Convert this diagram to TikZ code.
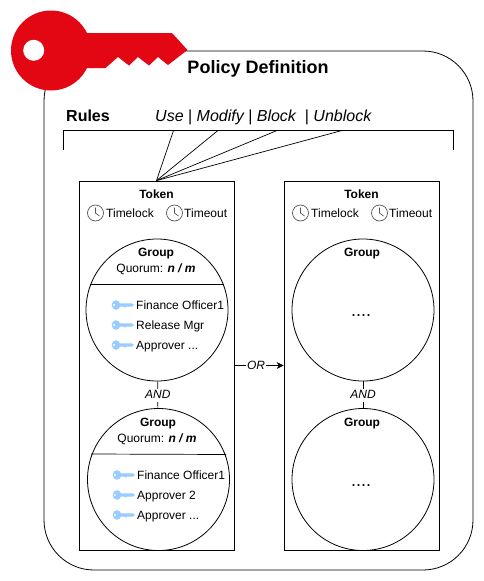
\documentclass[tikz,border=0pt]{standalone}
\usepackage{fontspec}
\setmainfont{Liberation Sans}
\usetikzlibrary{arrows.meta,shapes.geometric}
\definecolor{keyred}{HTML}{E30613}
\definecolor{keyblue}{HTML}{99CCFF}
\definecolor{clockgray}{HTML}{555555}
\tikzset{
  x=1pt,y=-1pt,
  txt/.style={inner sep=0pt,yshift=-1pt,text height=8.6pt,text depth=2.6pt,font=\fontsize{12}{14}\selectfont},
  boldtxt/.style={txt,font=\fontsize{12}{14}\selectfont\bfseries},
  ittxt/.style={txt,fill=white,inner sep=1pt,font=\fontsize{12}{14}\selectfont\itshape},
  titletxt/.style={inner sep=0pt,yshift=-2pt,text height=13pt,text depth=3.8pt,font=\fontsize{18}{20}\selectfont\bfseries},
  bigbold/.style={inner sep=0pt,yshift=-2pt,text height=11.5pt,text depth=3.4pt,font=\fontsize{16}{18}\selectfont\bfseries},
  bigit/.style={inner sep=0pt,yshift=-2pt,text height=11.5pt,text depth=3.4pt,font=\fontsize{16}{18}\selectfont\itshape},
  dotstxt/.style={inner sep=0pt,text height=13pt,text depth=3.8pt,font=\fontsize{18}{20}\selectfont},
  tokenbox/.style={draw=black,line width=0.8pt,rectangle,minimum width=155pt,minimum height=369pt,inner sep=0pt},
  groupcircle/.style={draw=black,line width=0.8pt,circle,minimum size=142pt,inner sep=0pt},
  conn/.style={draw=black,line width=0.7pt},
  smallkey/.pic={
    \fill[keyblue] (-6,0) ellipse (4.3 and 4.8);
    \fill[keyblue] (-4,-1.6) -- (10,-1.6) -- (12,0) -- (10,1.6) -- (4,1.6) -- (3,2.6) -- (1,1.6) -- (-4,1.6) -- cycle;
    \fill[white] (-8,0) circle (1.2);
  },
  clockicon/.pic={
    \draw[clockgray,line width=0.7pt,fill=white] (0,0) circle (8);
    \draw[clockgray,line width=0.7pt] (0,-5.5) -- (0,0) -- (4,3);
  }
}
\begin{document}
\begin{tikzpicture}
\useasboundingbox (0,0) rectangle (484,581);
\fill[white] (0,0) rectangle (484,581);
% outer
\draw[line width=0.8pt,rounded corners=50pt] (44,51) rectangle (473,570);
% key
\fill[keyred] (51,50.5) circle (40);
\fill[keyred] (85,33) -- (172,33) -- (187.5,50) -- (168,65) -- (158,57) -- (149,65.5) -- (138,57) -- (129,65.5) -- (118,57) -- (105.5,68) -- (85,68) -- cycle;
\fill[white] (33.7,50.3) circle (10.5);
% texts
\node[titletxt] (title) at (258,67) {Policy Definition};
\node[bigbold,anchor=west] (rules) at (66,115.5) {Rules};
\node[bigit,anchor=west] (ops) at (155,115.5) {Use {\upshape|} Modify {\upshape|} Block\ \ {\upshape|} Unblock};
% bracket
\draw[line width=0.8pt] (63.5,150) -- (63.5,130.5) -- (453.5,130.5) -- (453.5,150);
% tokens
\node[tokenbox] (t1) at (156.5,365.5) {};
\node[tokenbox] (t2) at (361.5,365.5) {};
% rule lines
\coordinate (r1) at (173.5,130.5);
\coordinate (r2) at (218,130.5);
\coordinate (r3) at (277,130.5);
\coordinate (r4) at (342,130.5);
\foreach \r in {r1,r2,r3,r4} \draw[conn] (\r) -- (t1.north);
% token headers
\node[boldtxt] (t1h) at (156.5,194) {Token};
\node[boldtxt] (t2h) at (361.5,194) {Token};
\pic at (95.5,213) {clockicon};
\pic at (174.5,213) {clockicon};
\pic at (300.5,213) {clockicon};
\pic at (379.5,213) {clockicon};
\node[txt,anchor=west] (a1) at (106,213) {Timelock};
\node[txt,anchor=west] (a2) at (184,213) {Timeout};
\node[txt,anchor=west] (a3) at (311,213) {Timelock};
\node[txt,anchor=west] (a4) at (389,213) {Timeout};
% groups
\node[groupcircle] (g1) at (157,310) {};
\node[groupcircle] (g2) at (158.5,479.5) {};
\node[groupcircle] (g3) at (363,310) {};
\node[groupcircle] (g4) at (363,479.5) {};
% connectors
\draw[conn] (g1) -- (g2) node[midway,ittxt] (and1) {AND};
\draw[conn] (g3) -- (g4) node[midway,ittxt] (and2) {AND};
\draw[conn,-{Stealth[length=7pt,width=7pt]}] (t1.east |- 0,365.5) -- (t2.west |- 0,365.5) node[pos=0.44,ittxt] (orl) {OR};
% group 1
\node[boldtxt] (g1h) at (156,252) {Group};
\node[txt] (g1q) at (156,268) {Quorum: {\bfseries\itshape n / m}};
\draw[conn] (90,284) -- (224,284);
\pic at (122,305) {smallkey};
\pic at (122,325) {smallkey};
\pic at (122,345) {smallkey};
\node[txt,anchor=west] (k1) at (136,305) {Finance Officer1};
\node[txt,anchor=west] (k2) at (136,325) {Release Mgr};
\node[txt,anchor=west] (k3) at (136,345) {Approver ...};
% group 2
\node[boldtxt] (g2h) at (158,422) {Group};
\node[txt] (g2q) at (157,438) {Quorum: {\bfseries\itshape n / m}};
\draw[conn] (91,454) -- (226,454.5);
\pic at (123,475) {smallkey};
\pic at (123,495) {smallkey};
\pic at (123,515) {smallkey};
\node[txt,anchor=west] (k4) at (137,475) {Finance Officer1};
\node[txt,anchor=west] (k5) at (137,495) {Approver 2};
\node[txt,anchor=west] (k6) at (137,515) {Approver ...};
% right groups
\node[boldtxt] (g3h) at (362,252) {Group};
\node[boldtxt] (g4h) at (362,422) {Group};
\node[dotstxt] (d1) at (361,312) {....};
\node[dotstxt] (d2) at (361,482) {....};
\end{tikzpicture}
\end{document}
